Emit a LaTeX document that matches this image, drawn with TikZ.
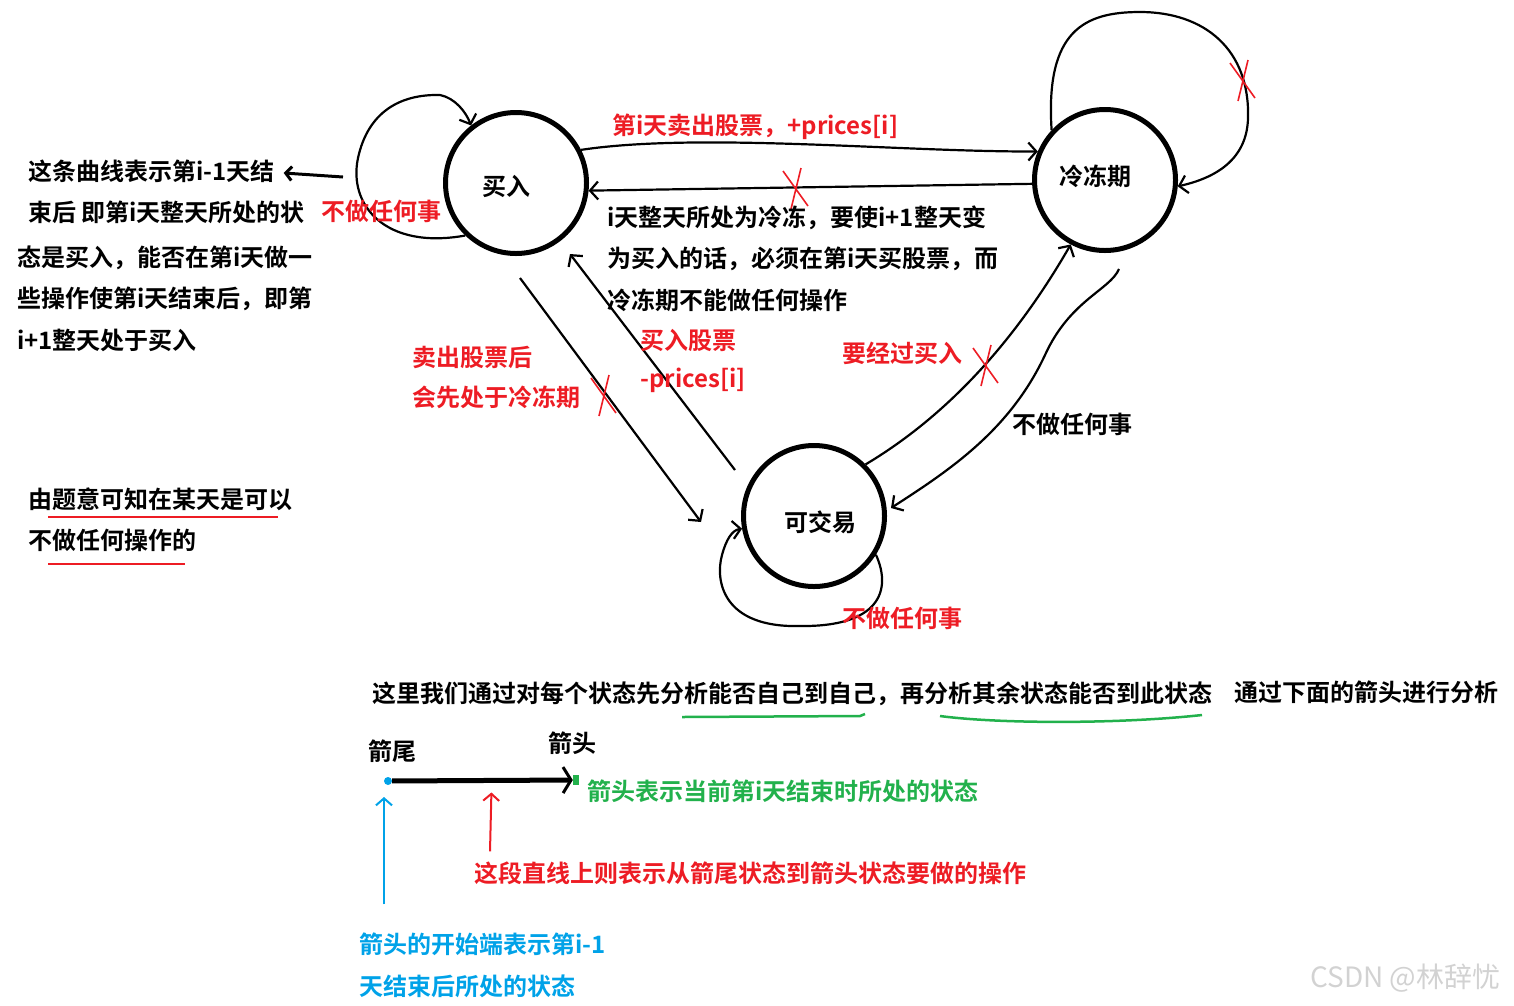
\documentclass[tikz,border=0pt]{standalone}
\usepackage{fontspec}
\setmainfont{Noto Sans CJK SC}[BoldFont={* Bold}]
\usetikzlibrary{arrows.meta,calc}
\definecolor{paintred}{RGB}{237,28,36}
\definecolor{paintgreen}{RGB}{34,177,76}
\definecolor{paintblue}{RGB}{0,162,232}
\tikzset{
  state/.style={circle, draw, line width=5pt, minimum size=141pt, inner sep=0pt,
    font=\bfseries\fontsize{24}{29}\selectfont},
  txt/.style={anchor=west, inner sep=0pt, font=\bfseries\fontsize{24}{29}\selectfont},
  redtxt/.style={txt, text=paintred},
  hand/.style={line width=2.2pt, -{Straight Barb[length=8pt,width=18pt]}},
  xmark/.pic={\draw[paintred, line width=1.6pt] (-12,-17) -- (13,18) (6,-20) -- (-4,21);}
}
\begin{document}
\begin{tikzpicture}[x=1pt, y=-1pt]
  \useasboundingbox (0,0) rectangle (1514,1005);

  % 三个状态
  \node[state] (buy) at (516,183) {\raisebox{-9pt}[10pt][4pt]{买入\hspace{20pt}}};
  \node[state] (freeze) at (1105,180) {\raisebox{-2pt}[10pt][4pt]{冷冻期\hspace{20pt}}};
  \node[state] (trade) at (814,516) {\raisebox{-12pt}[10pt][4pt]{\hspace{12pt}可交易}};

  % 买入: 自己到自己
  \draw[hand] (buy.226) .. controls (385,250) and (348,205) .. (358,158)
    .. controls (368,112) and (400,94) .. (440,95)
    .. controls (455,98) and (466,112) .. (buy.128);
  \node[redtxt] (buyidle) at (321,211) {不做任何事};
  \node[txt] (note1) at (28,171) {这条曲线表示第i-1天结};
  \node[txt] (note2) at (28,212) {束后 即第i天整天所处的状};
  \node[txt] (note3) at (17,258) {态是买入，能否在第i天做一};
  \node[txt] (note4) at (17,299) {些操作使第i天结束后，即第};
  \node[txt] (note5) at (17,340) {i+1整天处于买入};
  \coordinate (loopside) at (343,177);
  \draw[line width=3pt, -{Straight Barb[length=6pt,width=14pt]}] (loopside) -- ($(note1.east)+(9,2)$);

  % 买入 -> 冷冻期
  \draw[hand] (buy.27) .. controls (700,132) and (900,152) .. (freeze.157);
  \node[redtxt] (sell) at (612,127) {第i天卖出股票，+prices[i]};

  % 冷冻期 -> 买入 (不行)
  \draw[hand] (freeze.183) -- (buy.-6);
  \pic at (795,188) {xmark};
  \node[txt] (why1) at (607,218) {i天整天所处为冷冻，要使i+1整天变};
  \node[txt] (why2) at (607,259) {为买入的话，必须在第i天买股票，而};
  \node[txt] (why3) at (607,300) {冷冻期不能做任何操作};

  % 冷冻期: 自己到自己 (不行)
  \draw[hand] (freeze.137) .. controls (1045,30) and (1085,12) .. (1140,12)
    .. controls (1205,12) and (1250,50) .. (1248,118)
    .. controls (1247,160) and (1215,178) .. (freeze.-5);
  \pic at (1242,80) {xmark};

  % 买入 -> 可交易 (不行)
  \draw[hand] ($(buy.south)+(4,22)$) -- ($(trade.west)+(-40,6)$);
  \pic at (603,395) {xmark};
  \node[redtxt] (sold1) at (412,357) {卖出股票后};
  \node[redtxt] (sold2) at (412,397) {会先处于冷冻期};

  % 可交易 -> 买入
  \draw[hand] ($(trade.west)+(-6,-46)$) -- ($(buy.south)+(54,-2)$);
  \node[redtxt] (bought1) at (640,340) {买入股票};
  \node[redtxt] (bought2) at (640,380) {-prices[i]};

  % 可交易 -> 冷冻期 (不行)
  \draw[hand] (trade.45) .. controls (940,420) and (1010,350) .. (freeze.242);
  \pic at (985,365) {xmark};
  \node[redtxt] (mustbuy) at (842,353) {要经过买入};

  % 冷冻期 -> 可交易
  \draw[hand] ($(freeze.south)+(14,16)$) .. controls (1110,290) and (1070,300) .. (1045,355)
    .. controls (1010,430) and (950,470) .. ($(trade.east)+(4,-8)$);
  \node[txt] (freezeidle) at (1012,424) {不做任何事};

  % 可交易: 自己到自己
  \draw[hand] (trade.-32) .. controls (892,590) and (880,627) .. (800,626)
    .. controls (722,628) and (715,580) .. (722,555)
    .. controls (726,540) and (732,530) .. (trade.190);
  \node[redtxt] (tradeidle) at (842,618) {不做任何事};

  % 左下说明
  \node[txt] (idle1) at (28,499) {由题意可知在某天是可以};
  \node[txt] (idle2) at (28,540) {不做任何操作的};
  \draw[paintred, line width=2.5pt] (48,517) -- (278,517);
  \draw[paintred, line width=2.5pt] (48,564) -- (185,564);

  % 下面: 箭头的说明
  \node[txt] (method) at (372,694) {这里我们通过对每个状态先分析能否自己到自己，再分析其余状态能否到此状态};
  \node[txt] (method2) at (1234,692) {通过下面的箭头进行分析};
  \draw[paintgreen, line width=2.5pt] (682,717) -- (860,716) -- (865,714);
  \draw[paintgreen, line width=2.5pt] (940,716) .. controls (1000,724) and (1120,724) .. (1202,715);

  \node[txt] (tailname) at (368,751) {箭尾};
  \node[txt] (headname) at (548,743) {箭头};
  \node[circle, fill=paintblue, inner sep=0pt, minimum size=8pt] (tail) at (388,781) {};
  \node[fill=paintgreen, inner sep=0pt, minimum width=6pt, minimum height=10pt] (head) at (576,780) {};
  \draw[line width=5pt, -{Straight Barb[length=8pt,width=26pt,line width=3pt]}] (tail) -- (head.west);
  \node[txt, text=paintgreen] (headnote) at (587,791) {箭头表示当前第i天结束时所处的状态};

  \node[redtxt] (opnote) at (474,873) {这段直线上则表示从箭尾状态到箭头状态要做的操作};
  \draw[paintred, line width=2pt, -{Straight Barb[length=7pt,width=16pt]}]
    ($(opnote.north west)+(16,-10)$) -- ($(tail)!0.55!(head)+(0,12)$);

  \node[txt, text=paintblue] (tailnote1) at (359,944) {箭头的开始端表示第i-1};
  \node[txt, text=paintblue] (tailnote2) at (359,986) {天结束后所处的状态};
  \draw[paintblue, line width=2pt, -{Straight Barb[length=7pt,width=16pt]}]
    ($(tailnote1.north west)+(25,-28)$) -- ($(tail)+(-4,16)$);

  % 水印
  \node[anchor=west, inner sep=0pt, text=gray!35, font=\fontsize{28}{32}\selectfont] (mark) at (1310,978) {CSDN @林辞忧};
\end{tikzpicture}
\end{document}
